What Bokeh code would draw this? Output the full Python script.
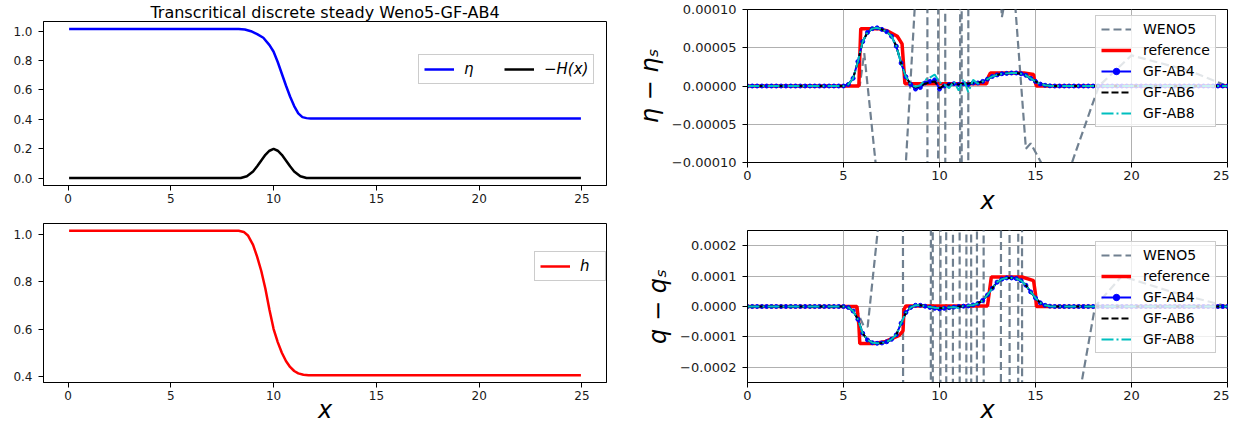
import numpy as np
from bokeh.plotting import figure
from bokeh.layouts import row, column
from bokeh.models import (FixedTicker, CustomJSTickFormatter, Legend, LegendItem, Range1d)
from bokeh.embed import file_html
from bokeh.resources import INLINE

# ---------------- left panels data ----------------
eta_x = [0.05, 8.3, 8.6, 8.9, 9.2, 9.5, 9.8, 10.0, 10.2, 10.4, 10.6, 10.8, 11.0, 11.2, 11.4, 11.6, 11.8, 12.0, 24.95]
eta_y = [1.015, 1.015, 1.011, 1.0, 0.98, 0.955, 0.905, 0.86, 0.79, 0.71, 0.63, 0.555, 0.49, 0.44, 0.415, 0.408, 0.406, 0.405, 0.405]

bump_x = [0.05, 8.4, 8.7, 9.0, 9.2, 9.4, 9.6, 9.8, 10.0, 10.2, 10.4, 10.6, 10.8, 11.0, 11.3, 11.6, 24.95]
bump_y = [0.0, 0.0, 0.012, 0.045, 0.08, 0.12, 0.158, 0.186, 0.198, 0.186, 0.158, 0.12, 0.08, 0.045, 0.012, 0.0, 0.0]

h_x = [0.05, 8.3, 8.55, 8.75, 9.0, 9.2, 9.4, 9.6, 9.8, 10.0, 10.2, 10.4, 10.6, 10.8, 11.0, 11.2, 11.45, 11.7, 12.0, 24.95]
h_y = [1.015, 1.015, 1.01, 0.995, 0.955, 0.905, 0.845, 0.77, 0.68, 0.6, 0.545, 0.5, 0.465, 0.44, 0.423, 0.413, 0.407, 0.405, 0.405, 0.405]

# ---------------- right panels data ----------------
grid_x = [i * 0.25 for i in range(101)]   # sampling grid of the GF schemes

# eta - eta_s
ref_eta_x = [0.0, 5.8, 5.85, 5.9, 6.8, 7.3, 7.8, 8.05, 8.15, 8.2, 12.45, 12.55, 12.65, 14.4, 14.9, 14.95, 15.05, 25.0]
ref_eta_y = [0.0, 0.0, 4e-5, 7.5e-5, 7.5e-5, 7.2e-5, 6.5e-5, 5.5e-5, 2e-5, 0.3e-5, 0.3e-5, 1.2e-5, 1.7e-5, 1.7e-5, 1.5e-5, 0.8e-5, 0.0, 0.0]

weno_eta_x = [0.0, 5.6, 5.85, 6.08, 7.0, 7.6, 8.0, 9.0, 9.34, 9.40, 9.90, 9.96, 10.27, 10.33, 11.05, 11.10, 11.13, 11.18,
              11.47, 11.53, 12.5, 13.25, 13.55, 13.75, 13.9, 14.5, 14.75, 15.4, 16.2, 16.9, 18.3, 20.0, 23.0, 25.0]
weno_eta_y = [0.0, 0.0, 1e-6, 4.3e-5, -1.8e-4, -2.6e-4, -2.1e-4, 2.3e-4, 3e-3, -3e-3, -3e-3, 3e-3, 3e-3, -3e-3, -3e-3, 3e-3, 3e-3, -3e-3,
              -3e-3, 3e-3, 4e-4, 9e-5, 1.3e-4, 1.6e-4, 1.2e-4, -8.2e-5, -7.5e-5, -1.05e-4, -2.2e-4, -1.0e-4, 0.0, 4e-5, 2e-5, 0.0]

ab4_eta_mid = [0.2, 1.0, 3.2, 5.8, 7.0, 7.5, 7.6, 7.4, 7.1, 6.5, 5.2, 3.0, 1.2, 0.2, -0.4, -0.2, 0.4, 0.6, 0.8, -0.4, 0.0, 0.2,
               0.3, 0.2, 0.3, 0.2, 0.4, 0.4, 0.6, 0.9, 1.25, 1.45, 1.6, 1.65, 1.7, 1.7, 1.6, 1.4, 1.0, 0.6, 0.25, 0.1, 0.02]
ab6_eta_mid = [0.2, 1.0, 3.2, 5.8, 7.0, 7.5, 7.6, 7.4, 7.1, 6.5, 5.2, 3.0, 1.2, 0.2, -0.2, 0.0, 0.3, 0.5, 0.6, -0.3, 0.1, 0.2,
               0.3, 0.2, 0.3, 0.3, 0.4, 0.4, 0.6, 0.9, 1.25, 1.45, 1.6, 1.65, 1.7, 1.7, 1.6, 1.4, 1.0, 0.6, 0.25, 0.1, 0.02]
ab8_eta_mid = [0.2, 1.0, 3.2, 5.8, 7.0, 7.5, 7.6, 7.4, 7.1, 6.5, 5.2, 3.0, 1.2, 0.2, -0.1, 0.1, 0.8, 1.1, 1.5, 0.5, 0.2, -0.3,
               0.6, -0.6, 0.9, -0.8, 0.8, 0.3, 0.6, 0.9, 1.25, 1.45, 1.6, 1.65, 1.7, 1.7, 1.6, 1.4, 1.0, 0.6, 0.25, 0.1, 0.02]

# q - q_s
ref_q_x = [0.0, 5.7, 5.8, 5.85, 6.6, 7.2, 7.9, 8.1, 8.15, 8.25, 12.5, 12.6, 12.7, 14.3, 14.9, 15.0, 15.05, 25.0]
ref_q_y = [0.0, 0.0, -0.6e-4, -1.22e-4, -1.22e-4, -1.15e-4, -0.95e-4, -0.8e-4, -0.1e-4, 0.02e-4, 0.02e-4, 0.5e-4, 0.97e-4, 0.97e-4,
           0.85e-4, 0.4e-4, 0.0, 0.0]

weno_q_x = [0.0, 5.6, 6.05, 6.26, 6.9, 7.5, 8.06, 8.14, 9.53, 9.57, 9.63, 9.67, 10.03, 10.07, 10.33, 10.37, 10.68, 10.72, 11.03,
            11.07, 11.38, 11.42, 11.63, 11.67, 11.93, 11.97, 12.28, 12.32, 13.18, 13.22, 13.63, 13.67, 14.08, 14.12, 14.28, 14.32,
            16.0, 17.0, 17.4, 18.1, 19.5, 22.0, 25.0]
weno_q_y = [0.0, 0.0, -6.4e-5, -6.6e-5, 3.2e-4, 6e-4, 3e-3, -3e-3, -3e-3, 3e-3, 3e-3, -3e-3, -3e-3, 3e-3, 3e-3, -3e-3, -3e-3, 3e-3,
            3e-3, -3e-3, -3e-3, 3e-3, 3e-3, -3e-3, -3e-3, 3e-3, 3e-3, -3e-3, -3e-3, 3e-3, 3e-3, -3e-3, -3e-3, 3e-3, 3e-3, -3e-3,
            -1e-3, -4e-4, -2.5e-4, 0.0, 1.0e-4, 5e-5, 0.0]

ab4_q_mid = [-0.03, -0.15, -0.42, -0.88, -1.1, -1.19, -1.21, -1.2, -1.16, -1.08, -0.93, -0.55, -0.2, -0.03, 0.04, 0.04, 0.01,
             -0.03, -0.06, -0.08, -0.06, -0.04, -0.02, 0.0, 0.01, 0.02, 0.05, 0.1, 0.2, 0.38, 0.6, 0.8, 0.9, 0.94, 0.94, 0.92,
             0.85, 0.7, 0.48, 0.28, 0.12, 0.04, 0.01]
ab6_q_mid = [-0.03, -0.15, -0.42, -0.88, -1.1, -1.19, -1.21, -1.2, -1.16, -1.08, -0.93, -0.55, -0.2, -0.03, 0.04, 0.04, 0.01,
             -0.02, -0.04, -0.06, -0.05, -0.03, -0.02, 0.0, 0.01, 0.02, 0.05, 0.1, 0.2, 0.38, 0.6, 0.8, 0.9, 0.94, 0.94, 0.92,
             0.85, 0.7, 0.48, 0.28, 0.12, 0.04, 0.01]
ab8_q_mid = [-0.03, -0.15, -0.42, -0.88, -1.1, -1.19, -1.21, -1.2, -1.16, -1.08, -0.93, -0.55, -0.2, -0.03, 0.04, 0.04, 0.01,
             -0.02, -0.04, -0.05, -0.04, -0.03, -0.02, -0.05, 0.02, 0.03, 0.05, 0.1, 0.2, 0.38, 0.6, 0.8, 0.9, 0.94, 0.94, 0.92,
             0.85, 0.7, 0.48, 0.28, 0.12, 0.04, 0.01]

def on_grid(mid, scale):
    vals = [0.0] * 21 + [v * scale for v in mid] + [0.0] * 37
    assert len(vals) == len(grid_x)
    return vals

ab4_eta = on_grid(ab4_eta_mid, 1e-5)
ab6_eta = on_grid(ab6_eta_mid, 1e-5)
ab8_eta = on_grid(ab8_eta_mid, 1e-5)
ab4_q = on_grid(ab4_q_mid, 1e-4)
ab6_q = on_grid(ab6_q_mid, 1e-4)
ab8_q = on_grid(ab8_q_mid, 1e-4)

FONT = "DejaVu Sans"


def make_fig(width, height, xr, yr, ml, mr, mt, mb, tick_fs, xticks, yticks, ydigits, grid=False, xlab_standoff=0):
    p = figure(width=width, height=height, x_range=xr, y_range=yr,
               output_backend="svg", toolbar_location=None,
               min_border_left=ml, min_border_right=mr, min_border_top=mt, min_border_bottom=mb)
    p.background_fill_color = "white"
    p.border_fill_color = "white"
    p.outline_line_color = "black"
    p.outline_line_alpha = 1
    p.outline_line_width = 1
    for ax in (p.xaxis[0], p.yaxis[0]):
        ax.major_tick_out = 5
        ax.major_tick_in = 0
        ax.minor_tick_out = 0
        ax.minor_tick_in = 0
        ax.axis_line_color = "black"
        ax.major_tick_line_color = "black"
        ax.major_label_text_font = FONT
        ax.major_label_text_font_size = tick_fs
        ax.major_label_text_color = "#1a1a1a"
        ax.axis_label_text_font = FONT
        ax.axis_label_text_font_style = "italic"
        ax.axis_label_text_color = "black"
    p.xaxis[0].major_label_standoff = 3
    p.xaxis[0].axis_label_text_font_size = "24px"
    p.xaxis[0].axis_label_standoff = xlab_standoff
    p.yaxis[0].major_label_standoff = 6
    p.yaxis[0].axis_label_text_font_size = "24px"
    p.yaxis[0].axis_label_standoff = 5
    p.xaxis[0].ticker = FixedTicker(ticks=xticks)
    p.xaxis[0].formatter = CustomJSTickFormatter(code="return tick.toFixed(0);")
    p.yaxis[0].ticker = FixedTicker(ticks=yticks)
    p.yaxis[0].formatter = CustomJSTickFormatter(
        args=dict(d=ydigits),
        code="var s = Math.abs(tick) < 1e-12 ? (0).toFixed(d) : tick.toFixed(d); return s.replace('-', '\u2212');")
    if grid:
        p.xgrid.grid_line_color = "#b0b0b0"
        p.ygrid.grid_line_color = "#b0b0b0"
        p.xgrid.grid_line_width = 1
        p.ygrid.grid_line_width = 1
        p.xgrid.ticker = FixedTicker(ticks=xticks)
        p.ygrid.ticker = FixedTicker(ticks=yticks)
    else:
        p.xgrid.visible = False
        p.ygrid.visible = False
    return p


def style_legend(lg, fs="14px"):
    lg.label_text_font = FONT
    lg.label_text_font_size = fs
    lg.label_text_color = "black"
    lg.border_line_color = "#cccccc"
    lg.border_line_alpha = 1
    lg.background_fill_alpha = 0.8
    lg.glyph_width = 30
    lg.glyph_height = 16
    lg.label_height = 16
    lg.label_standoff = 12
    lg.padding = 5
    lg.spacing = 5
    lg.margin = 0


xticks = [0, 5, 10, 15, 20, 25]
LW = 630   # width of the left column

# ---- left top ----
lt = make_fig(LW, 210, Range1d(-1.195, 26.195), Range1d(-0.0508, 1.066), 43, 24, 21, 25, "12px",
              xticks, [0.0, 0.2, 0.4, 0.6, 0.8, 1.0], 1)
lt.title.text = "Transcritical discrete steady Weno5-GF-AB4"
lt.title.align = "center"
lt.title.text_font = FONT
lt.title.text_font_size = "16px"
lt.title.text_font_style = "normal"
lt.title.text_color = "black"
lt.title.standoff = 0
r_eta = lt.line(eta_x, eta_y, line_color="#0000ff", line_width=2.5)
r_bump = lt.line(bump_x, bump_y, line_color="black", line_width=2.5)
lg1 = Legend(items=[LegendItem(label="\u03b7", renderers=[r_eta]),
                    LegendItem(label="\u2212H(x)", renderers=[r_bump])],
             orientation="horizontal", location=(375, 101))
style_legend(lg1, "15px")
lg1.label_text_font_style = "italic"
lg1.label_standoff = 10
lg1.spacing = 20
lt.add_layout(lg1)

# ---- left bottom ----
lb = make_fig(LW, 216, Range1d(-1.195, 26.195), Range1d(0.3745, 1.0455), 43, 24, 13, 38, "12px",
              xticks, [0.4, 0.6, 0.8, 1.0], 1, xlab_standoff=-7)
lb.xaxis[0].axis_label = "x"
r_h = lb.line(h_x, h_y, line_color="#ff0000", line_width=2.5)
lg2 = Legend(items=[LegendItem(label="h", renderers=[r_h])], location=(491, 101))
style_legend(lg2, "15px")
lg2.label_text_font_style = "italic"
lg2.label_standoff = 10
lb.add_layout(lg2)

# ---- right panels ----
RW = 1229 - LW

def right_panel(height, mt, mb, yr, yticks, ydigits, ylabel, wx, wy, rx, ry, a4, a6, a8, loc, xls):
    p = make_fig(RW, height, Range1d(0, 25), yr, 117, RW - 117 - 480, mt, mb, "13px", xticks, yticks, ydigits,
                 grid=True, xlab_standoff=xls)
    p.xaxis[0].axis_label = "x"
    p.yaxis[0].axis_label = ylabel
    rw = p.line(wx, wy, line_color="#708090", line_width=2.2, line_dash="8 4")
    rr = p.line(rx, ry, line_color="#ff0000", line_width=3.5)
    r4 = p.line(grid_x, a4, line_color="#0000ff", line_width=2)
    r4m = p.scatter(grid_x, a4, size=4, color="#0000ff")
    r6 = p.line(grid_x, a6, line_color="black", line_width=2, line_dash="7 3")
    r8 = p.line(grid_x, a8, line_color="#00bfbf", line_width=2, line_dash="12 3 2 3")
    lg = Legend(items=[LegendItem(label="WENO5", renderers=[rw]),
                       LegendItem(label="reference", renderers=[rr]),
                       LegendItem(label="GF-AB4", renderers=[r4, r4m]),
                       LegendItem(label="GF-AB6", renderers=[r6]),
                       LegendItem(label="GF-AB8", renderers=[r8])],
                location=loc)
    style_legend(lg, "14px")
    p.add_layout(lg)
    return p

rt = right_panel(217, 9, 54, Range1d(-0.0001, 0.0001), [-0.0001, -0.00005, 0.0, 0.00005, 0.0001], 5,
                 "\u03b7 \u2212 \u03b7\u209b", weno_eta_x, weno_eta_y, ref_eta_x, ref_eta_y,
                 ab4_eta, ab6_eta, ab8_eta, (348, 35), 4)
rb = right_panel(209, 13, 38, Range1d(-0.00025, 0.00025), [-0.0002, -0.0001, 0.0, 0.0001, 0.0002], 4,
                 "q \u2212 q\u209b", weno_q_x, weno_q_y, ref_q_x, ref_q_y,
                 ab4_q, ab6_q, ab8_q, (348, 29), -7)

layout = row(column(lt, lb), column(rt, rb))
layout.spacing = 0

open("out.html", "w").write(file_html(layout, INLINE))
